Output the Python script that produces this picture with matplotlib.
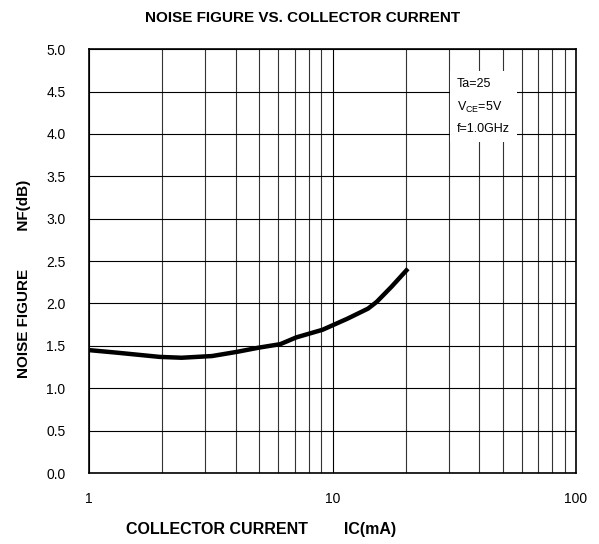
import numpy as np
import matplotlib.pyplot as plt
from matplotlib.ticker import FixedLocator, LogLocator, NullFormatter

plt.rcParams['font.family'] = ['Liberation Sans', 'DejaVu Sans']

# Collector current (mA) and noise figure (dB)
ic = [1.0, 1.3, 1.95, 2.4, 3.2, 4.06, 5.0, 6.1, 7.1, 9.1, 11.5, 14.0, 15.2, 17.5, 20.4]
nf = [1.45, 1.42, 1.37, 1.36, 1.38, 1.43, 1.48, 1.52, 1.60, 1.69, 1.82, 1.94, 2.02, 2.2, 2.41]

y_ticks = [0.0, 0.5, 1.0, 1.5, 2.0, 2.5, 3.0, 3.5, 4.0, 4.5, 5.0]
x_ticks = [1, 10, 100]
x_labels = ['1', '10', '100']

fig = plt.figure(figsize=(5.99, 5.44), dpi=100)
ax = fig.add_axes([0.1486, 0.1305, 0.813, 0.779])

ax.set_xscale('log')
ax.set_xlim(1, 100)
ax.set_ylim(0, 5)
ax.set_yticks(y_ticks)
ax.set_yticklabels([f'{v:.1f}' for v in y_ticks])
ax.xaxis.set_major_locator(FixedLocator(x_ticks))
ax.set_xticklabels(x_labels)
ax.xaxis.set_minor_locator(LogLocator(base=10, subs=np.arange(2, 10)))
ax.xaxis.set_minor_formatter(NullFormatter())

ax.grid(True, which='major', color='black', lw=0.8)
ax.grid(True, which='minor', axis='x', color='#333333', lw=0.8)
ax.tick_params(which='both', length=0, labelsize=10)
ax.tick_params(axis='y', pad=17)
ax.tick_params(axis='x', pad=14)
for s in ax.spines.values():
    s.set_linewidth(1.2)

ax.plot(ic, nf, color='black', lw=3.2, solid_capstyle='butt')

ax.text(0.755, 0.798, 'Ta=25\nV$_{\\mathregular{CE}}$=5V\nf=1.0GHz', transform=ax.transAxes,
        fontsize=9, va='bottom', ha='left', linespacing=1.9,
        bbox=dict(facecolor='white', edgecolor='none', pad=5))

fig.text(0.505, 0.967, 'NOISE FIGURE VS. COLLECTOR CURRENT', ha='center', va='center',
         fontsize=11, fontweight='bold')
fig.text(0.435, 0.026, 'COLLECTOR CURRENT        IC(mA)', ha='center', va='center',
         fontsize=11.5, fontweight='bold')
fig.text(0.04, 0.487, 'NOISE FIGURE         NF(dB)', ha='center', va='center',
         fontsize=11, fontweight='bold', rotation=90)

fig.savefig('out.png', dpi=100)
